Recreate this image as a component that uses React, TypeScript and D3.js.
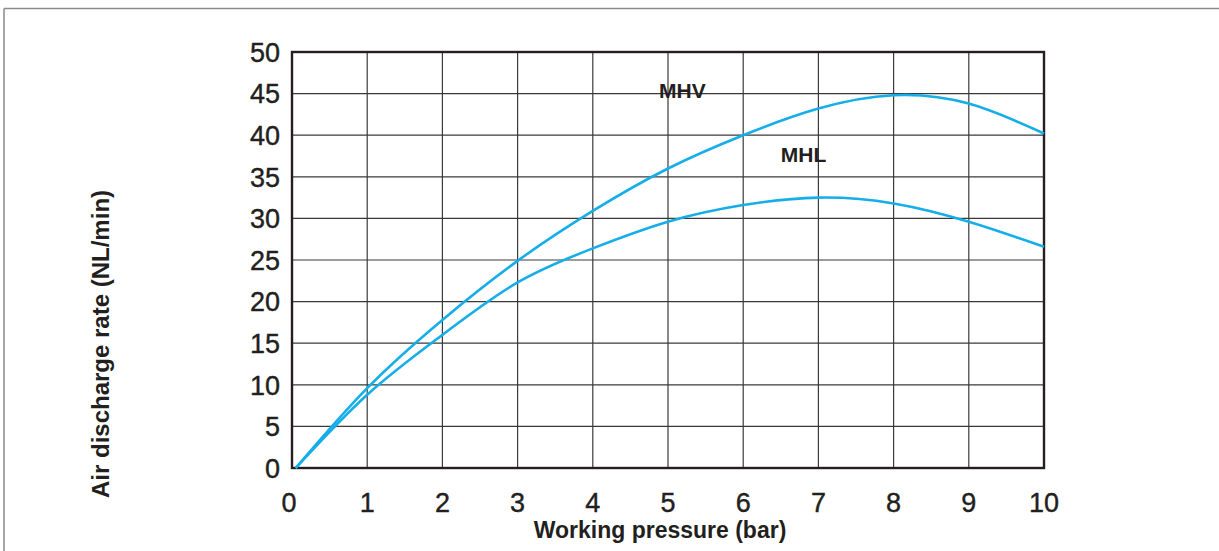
import React from 'react';
import * as d3 from 'd3';

// values
const pressure = [0.05, 1, 2, 3, 4, 5, 6, 7, 8, 9, 10];
const mhvFlow = [0, 9.6, 17.8, 24.9, 30.9, 36.0, 40.0, 43.2, 44.8, 43.8, 40.2];
const mhlFlow = [0, 8.8, 16.0, 22.3, 26.4, 29.6, 31.6, 32.5, 31.8, 29.6, 26.6];
const xTicks = [0, 1, 2, 3, 4, 5, 6, 7, 8, 9, 10];
const yTicks = [0, 5, 10, 15, 20, 25, 30, 35, 40, 45, 50];
const seriesLabels = [
  { name: 'MHV', x: 4.88, y: 44.5 },
  { name: 'MHL', x: 6.5, y: 36.8 },
];

const W = 1219;
const H = 551;
const ink = '#231f20';
const curveColor = '#15aee8';
const font = '"Liberation Sans", Arial, Helvetica, sans-serif';

const App: React.FC = () => {
  const x = d3.scaleLinear().domain([0, 10]).range([292, 1044]);
  const y = d3.scaleLinear().domain([0, 50]).range([468, 52]);

  const line = d3
    .line<number>()
    .x((_, i) => x(pressure[i]))
    .y((d) => y(d))
    .curve(d3.curveNatural);

  const [x0, x1] = x.range();
  const [y0, y1] = y.range();

  return (
    <svg
      width={W}
      height={H}
      style={{ position: 'absolute', left: 0, top: 0, display: 'block', background: '#fff' }}
    >
      {/* frame around figure */}
      <line x1={4} y1={8.5} x2={W} y2={8.5} stroke="#8a8a8a" strokeWidth={1.5} />
      <line x1={4} y1={8.5} x2={4} y2={H} stroke="#8a8a8a" strokeWidth={1.5} />

      {/* grid */}
      {xTicks.map((t) => (
        <line key={'gx' + t} x1={x(t)} x2={x(t)} y1={y0} y2={y1} stroke="#3a3a3a" strokeWidth={1.2} />
      ))}
      {yTicks.map((t) => (
        <line key={'gy' + t} x1={x0} x2={x1} y1={y(t)} y2={y(t)} stroke="#3a3a3a" strokeWidth={1.2} />
      ))}
      <rect x={x0} y={y1} width={x1 - x0} height={y0 - y1} fill="none" stroke={ink} strokeWidth={2.4} />

      {/* curves */}
      <path d={line(mhvFlow) || ''} fill="none" stroke={curveColor} strokeWidth={2.6} />
      <path d={line(mhlFlow) || ''} fill="none" stroke={curveColor} strokeWidth={2.6} />

      {seriesLabels.map((s) => (
        <text
          key={s.name}
          x={x(s.x)}
          y={y(s.y)}
          fontFamily={font}
          fontWeight="bold"
          fontSize={21}
          fill={ink}
        >
          {s.name}
        </text>
      ))}

      {/* tick labels */}
      {yTicks.map((t) => (
        <text
          key={'ty' + t}
          x={280}
          y={y(t)}
          dy="0.36em"
          textAnchor="end"
          fontFamily={font}
          fontSize={27}
          fill={ink}
          stroke={ink}
          strokeWidth={0.4}
        >
          {t}
        </text>
      ))}
      {xTicks.map((t) => (
        <text
          key={'tx' + t}
          x={x(t) - (t === 0 ? 3 : 0)}
          y={512}
          textAnchor="middle"
          fontFamily={font}
          fontSize={27}
          fill={ink}
          stroke={ink}
          strokeWidth={0.4}
        >
          {t}
        </text>
      ))}

      {/* axis titles */}
      <text x={660} y={538} textAnchor="middle" fontFamily={font} fontWeight="bold" fontSize={23} fill={ink}>
        Working pressure (bar)
      </text>
      <text
        transform={`translate(109,344) rotate(-90)`}
        textAnchor="middle"
        fontFamily={font}
        fontWeight="bold"
        fontSize={24}
        fill={ink}
      >
        Air discharge rate (NL/min)
      </text>
    </svg>
  );
};

export default App;
